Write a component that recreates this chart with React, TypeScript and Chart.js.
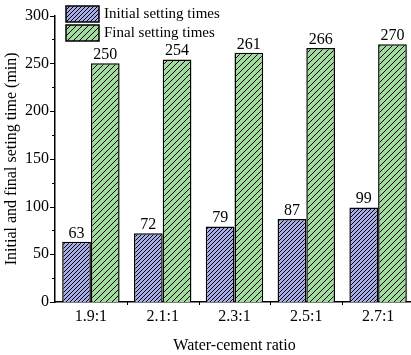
import React, { useEffect, useRef } from "react";
import { Chart, registerables } from "chart.js";

Chart.register(...registerables);

const categories = ["1.9:1", "2.1:1", "2.3:1", "2.5:1", "2.7:1"];
const initialTimes = [63, 72, 79, 87, 99];
const finalTimes = [250, 254, 261, 266, 270];
const seriesNames = ["Initial setting times", "Final setting times"];
const yTicks = [0, 50, 100, 150, 200, 250, 300];

const FONT = "'Liberation Serif', 'Times New Roman', serif";

function makeHatch(bg: string, spacing: number, lw: number): CanvasPattern | string {
  const c = document.createElement("canvas");
  c.width = spacing;
  c.height = spacing;
  const ctx = c.getContext("2d");
  if (!ctx) return bg;
  ctx.fillStyle = bg;
  ctx.fillRect(0, 0, spacing, spacing);
  ctx.strokeStyle = "#000";
  ctx.lineWidth = lw;
  ctx.beginPath();
  ctx.moveTo(-1, spacing + 1);
  ctx.lineTo(spacing + 1, -1);
  ctx.moveTo(-1, 1);
  ctx.lineTo(1, -1);
  ctx.moveTo(spacing - 1, spacing + 1);
  ctx.lineTo(spacing + 1, spacing - 1);
  ctx.stroke();
  const p = ctx.createPattern(c, "repeat");
  return p || bg;
}

const extrasPlugin = {
  id: "extras",
  afterDatasetsDraw(chart: any) {
    const ctx = chart.ctx;
    const x = chart.scales.x;
    const y = chart.scales.y;
    const area = chart.chartArea;
    ctx.save();
    // value labels
    ctx.fillStyle = "#000";
    ctx.font = `16px ${FONT}`;
    ctx.textAlign = "center";
    ctx.textBaseline = "bottom";
    chart.data.datasets.forEach((ds: any, di: number) => {
      const meta = chart.getDatasetMeta(di);
      meta.data.forEach((bar: any, i: number) => {
        ctx.fillText(String(ds.data[i]), bar.x, bar.y - 0.5);
      });
    });
    // ticks
    ctx.strokeStyle = "#000";
    ctx.lineWidth = 1;
    ctx.beginPath();
    for (let v = 0; v <= 300; v += 25) {
      const py = Math.round(y.getPixelForValue(v)) + 0.5;
      const len = v % 50 === 0 ? 5 : 3;
      ctx.moveTo(area.left, py);
      ctx.lineTo(area.left - len, py);
    }
    const n = categories.length;
    for (let i = 1; i < n; i++) {
      const px = Math.round((x.getPixelForValue(i - 1) + x.getPixelForValue(i)) / 2) + 0.5;
      ctx.moveTo(px, area.bottom);
      ctx.lineTo(px, area.bottom + 3);
    }
    ctx.stroke();
    // legend
    const lx = 66;
    const boxes = [
      { y: 6, fill: chart.data.datasets[0].backgroundColor },
      { y: 25, fill: chart.data.datasets[1].backgroundColor },
    ];
    boxes.forEach((b, i) => {
      ctx.fillStyle = b.fill;
      ctx.fillRect(lx, b.y, 33, 16);
      ctx.lineWidth = 1.5;
      ctx.strokeStyle = "#000";
      ctx.strokeRect(lx, b.y, 33, 16);
      ctx.fillStyle = "#000";
      ctx.font = `15px ${FONT}`;
      ctx.textAlign = "left";
      ctx.textBaseline = "middle";
      ctx.fillText(seriesNames[i], lx + 38, b.y + 8.5);
    });
    ctx.restore();
  },
};

export default function App() {
  const ref = useRef<HTMLCanvasElement>(null);
  useEffect(() => {
    if (!ref.current) return;
    const blue = makeHatch("#a6ade9", 4, 1);
    const green = makeHatch("#a2db9e", 6, 1);
    const chart = new Chart(ref.current, {
      type: "bar",
      data: {
        labels: categories,
        datasets: [
          {
            label: seriesNames[0],
            data: initialTimes,
            backgroundColor: blue as any,
            borderColor: "#000",
            borderWidth: 1.5,
            categoryPercentage: 0.8,
            barPercentage: 1.0,
          },
          {
            label: seriesNames[1],
            data: finalTimes,
            backgroundColor: green as any,
            borderColor: "#000",
            borderWidth: 1.5,
            categoryPercentage: 0.8,
            barPercentage: 1.0,
          },
        ],
      },
      options: {
        animation: false,
        responsive: false,
        maintainAspectRatio: false,
        layout: { padding: { top: 15, right: 4, left: 0, bottom: 0 } },
        plugins: {
          legend: { display: false },
          tooltip: { enabled: false },
        },
        scales: {
          x: {
            grid: { display: false, drawTicks: false },
            border: { display: true, color: "#000", width: 1.5 },
            ticks: { color: "#000", font: { family: FONT, size: 16 }, padding: 5 },
            title: {
              display: true,
              text: "Water-cement ratio",
              color: "#000",
              font: { family: FONT, size: 16 },
              padding: { top: 4, bottom: 0 },
            },
            afterFit(scale: any) {
              scale.height = 53;
            },
          },
          y: {
            min: 0,
            max: 300,
            afterBuildTicks(scale: any) {
              scale.ticks = yTicks.map((v) => ({ value: v }));
            },
            grid: { display: false, drawTicks: false },
            border: { display: true, color: "#000", width: 1.5 },
            ticks: { color: "#000", font: { family: FONT, size: 16 }, padding: 6 },
            title: {
              display: true,
              text: "Initial and final seting time (min)",
              color: "#000",
              font: { family: FONT, size: 16 },
              padding: { top: 2, bottom: 2 },
            },
            afterFit(scale: any) {
              scale.width = 55;
            },
          },
        },
      },
      plugins: [extrasPlugin],
    });
    return () => chart.destroy();
  }, []);
  return (
    <div style={{ position: "fixed", left: 0, top: 0, width: 411, height: 355, overflow: "hidden", background: "#fff" }}>
      <canvas ref={ref} width={418} height={355} style={{ display: "block", width: 418, height: 355 }} />
    </div>
  );
}
